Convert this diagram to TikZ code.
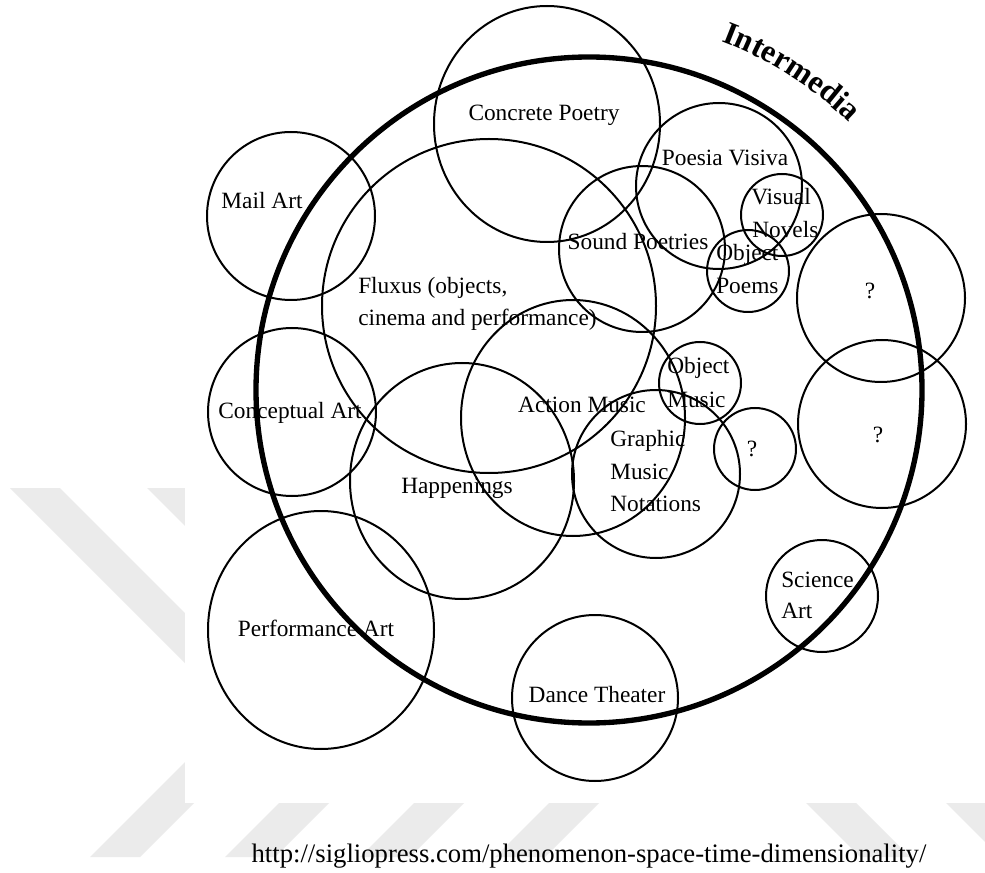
\documentclass[tikz,border=0pt]{standalone}
\usepackage{fontspec}
\setmainfont{Liberation Serif}
\usetikzlibrary{decorations.text}
\begin{document}
\begin{tikzpicture}[x=0.75pt,y=-0.75pt,
  ring/.style={draw=black, line width=1.5pt},
  bigring/.style={draw=black, line width=4pt},
  lab/.style={font=\fontsize{17.5}{20}\selectfont, inner sep=0pt, anchor=base},
  labw/.style={lab, anchor=base west},
  band/.style={fill=black!8, draw=none}]
\useasboundingbox (0,0) rectangle (985,873);
\fill[white] (0,0) rectangle (985,873);
% watermark bands
\fill[band] (10,488) -- (60,488) -- (300,728) -- (250,728) -- cycle;
\fill[band] (147,488) -- (197,488) -- (300,591) -- (250,591) -- cycle;
\foreach \xo in {90,225,360,495} {
  \fill[band] (\xo,857) -- (\xo+50,857) -- (\xo+170,737) -- (\xo+120,737) -- cycle;
}
\foreach \xo in {740,880} {
  \fill[band] (\xo,737) -- (\xo+50,737) -- (\xo+170,857) -- (\xo+120,857) -- cycle;
}
\fill[white] (185,0) rectangle (985,803);
% circles
\draw[bigring] (589,390) circle[radius=333];
\draw[ring] (547,124) ellipse[x radius=113, y radius=118];
\draw[ring] (291,216) circle[radius=84];
\draw[ring] (489,306) circle[radius=167];
\draw[ring] (719,186) circle[radius=83];
\draw[ring] (642,249) circle[radius=83];
\draw[ring] (782,215) circle[radius=41];
\draw[ring] (748,271) circle[radius=41];
\draw[ring] (881,298) circle[radius=84];
\draw[ring] (882,424) circle[radius=84];
\draw[ring] (292,412) circle[radius=84];
\draw[ring] (573,418) ellipse[x radius=112, y radius=118];
\draw[ring] (462,481) ellipse[x radius=112, y radius=118];
\draw[ring] (656,474) circle[radius=84];
\draw[ring] (700,383) circle[radius=41];
\draw[ring] (755,449) circle[radius=41];
\draw[ring] (822,596) circle[radius=56];
\draw[ring] (321,630) ellipse[x radius=113, y radius=119];
\draw[ring] (595,698) circle[radius=83];
% title along the arc
\path[decorate, decoration={text along path, text align=center,
  text={|\fontsize{24}{28}\selectfont\bfseries|Intermedia}}]
  (589,390) ++(-75:373) arc[start angle=-75, end angle=-40, radius=373];
% labels
\node[lab] (cp) at (544,121) {Concrete Poetry};
\node[lab] (ma) at (262,209) {Mail Art};
\node[lab] (pv) at (725,166) {Poesia Visiva};
\node[labw] (vn1) at (751,205) {Visual};
\node[labw] (vn2) at (752,238) {Novels};
\node[lab] (sp) at (638,250) {Sound Poetries};
\node[labw] (op1) at (716,261) {Object};
\node[labw] (op2) at (716,294) {Poems};
\node[labw] (fx1) at (358,294) {Fluxus (objects,};
\node[labw] (fx2) at (358,326) {cinema and performance)};
\node[lab] (q1) at (870,299) {?};
\node[lab] (q2) at (878,442) {?};
\node[labw] (om1) at (667,374) {Object};
\node[labw] (om2) at (667,407) {Music};
\node[lab] (am) at (582,412) {Action Music};
\node[lab] (ca) at (290,418) {Conceptual Art};
\node[labw] (gm1) at (610,446) {Graphic};
\node[labw] (gm2) at (610,479) {Music};
\node[labw] (gm3) at (610,511) {Notations};
\node[lab] (q3) at (752,456) {?};
\node[lab] (hp) at (457,493) {Happenings};
\node[labw] (sa1) at (781,587) {Science};
\node[labw] (sa2) at (781,618) {Art};
\node[lab] (pa) at (316,636) {Performance Art};
\node[lab] (dt) at (597,702) {Dance Theater};
\node[lab, font=\fontsize{20}{24}\selectfont] (url) at (589,862) {http://sigliopress.com/phenomenon-space-time-dimensionality/};
\end{tikzpicture}
\end{document}
